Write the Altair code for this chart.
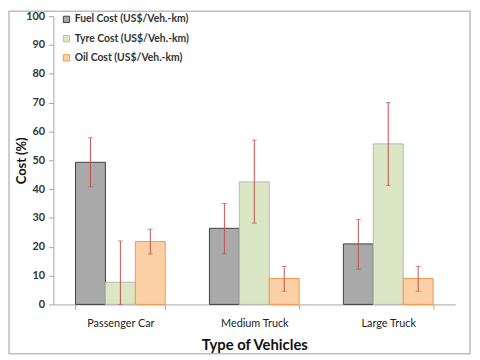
import altair as alt
import pandas as pd

categories = ["Passenger Car", "Medium Truck", "Large Truck"]
series = ["Fuel Cost (US$/Veh.-km)", "Tyre Cost (US$/Veh.-km)", "Oil Cost (US$/Veh.-km)"]

fuel = [49.3, 26.4, 21.0]
tyre = [7.7, 42.5, 55.7]
oil = [21.8, 9.0, 9.0]

fuel_low = [40.8, 17.6, 12.2]
fuel_high = [57.8, 35.0, 29.5]
tyre_low = [-6.6, 28.2, 41.3]
tyre_high = [22.0, 57.0, 70.0]
oil_low = [17.5, 4.6, 4.6]
oil_high = [26.1, 13.2, 13.2]
y_ticks = [0, 10, 20, 30, 40, 50, 60, 70, 80, 90, 100]

fills = ["#a9a9a9", "#dbe6c4", "#fbd0a6"]
strokes = ["#404040", "#b8b8b8", "#f79646"]

rows = []
for s, vals, lo, hi in zip(series, [fuel, tyre, oil], [fuel_low, tyre_low, oil_low], [fuel_high, tyre_high, oil_high]):
    for c, v, l, h in zip(categories, vals, lo, hi):
        rows.append({"cat": c, "series": s, "value": v, "low": l, "high": h})
df = pd.DataFrame(rows)

FONT = "Lato"
W, H = 407, 292

xaxis = alt.Axis(labelAngle=0, tickBand="extent", labelFontSize=11, labelFontWeight="normal",
                 labelColor="#222222", labelPadding=8, titleFontSize=15, titleFontWeight="bold",
                 titleColor="#111111", titlePadding=10, domainColor="#a6a6a6", tickColor="#a6a6a6",
                 tickSize=5)
xscale = alt.Scale(paddingInner=0.33, paddingOuter=0.165)
x = alt.X("cat:N", sort=categories, title="Type of Vehicles", scale=xscale, axis=xaxis)
xo = alt.XOffset("series:N", sort=series, scale=alt.Scale(paddingInner=0, paddingOuter=0))
yscale = alt.Scale(domain=[0, 100], clamp=True, nice=False)
yaxis = alt.Axis(values=y_ticks, grid=False, labelFontSize=11, labelFontWeight="bold",
                 labelColor="#333333", labelPadding=4, labelOverlap=False, labelFlush=False,
                 titleFontSize=13, titleFontWeight="bold", titleColor="#111111",
                 titleX=-32, titleY=H / 2, titleAlign="center", titleBaseline="middle", titleAngle=270,
                 domainColor="#a6a6a6", tickColor="#a6a6a6", tickSize=5)
y = alt.Y("value:Q", scale=yscale, title="Cost  (%)", axis=yaxis)

base = alt.Chart(df)

bars = base.mark_bar(strokeWidth=1).encode(
    x=x, xOffset=xo, y=y,
    fill=alt.Fill("series:N", sort=series, scale=alt.Scale(domain=series, range=fills),
                  legend=alt.Legend(title=None, orient="none", legendX=8, legendY=-2, symbolType="square",
                                    symbolSize=40, symbolStrokeWidth=1, labelFontSize=10.5,
                                    labelFontWeight="bold", labelColor="#333333", rowPadding=8.5,
                                    labelOffset=3)),
    stroke=alt.Stroke("series:N", sort=series, scale=alt.Scale(domain=series, range=strokes), legend=None),
)

xe = alt.X("cat:N", sort=categories, title="Type of Vehicles", scale=xscale, axis=xaxis)
err = base.mark_rule(color="#c0504d", strokeWidth=1).encode(
    x=xe, xOffset=xo,
    y=alt.Y("low:Q", scale=yscale, title="Cost  (%)", axis=yaxis), y2="high:Q",
)
cap_hi = base.mark_tick(color="#c0504d", thickness=1, size=5, orient="horizontal").encode(
    x=xe, xOffset=xo, y=alt.Y("high:Q", scale=yscale, title="Cost  (%)", axis=yaxis))
cap_lo = base.mark_tick(color="#c0504d", thickness=1, size=5, orient="horizontal").encode(
    x=xe, xOffset=xo, y=alt.Y("low:Q", scale=yscale, title="Cost  (%)", axis=yaxis))

border = alt.Chart(alt.Data(values=[{}])).mark_rect(fill=None, stroke="#bdbdbd", strokeWidth=1.5).encode(
    x=alt.value(-45), x2=alt.value(W + 15), y=alt.value(-5), y2=alt.value(342))

chart = alt.layer(bars, err, cap_hi, cap_lo, border).properties(
    width=W, height=H,
    autosize=alt.AutoSizeParams(type="none"),
    padding={"left": 46, "top": 6, "right": 17, "bottom": 52},
).configure(font=FONT).configure_view(stroke=None)

chart.save("out.html", embed_options={"renderer": "svg", "actions": False})
